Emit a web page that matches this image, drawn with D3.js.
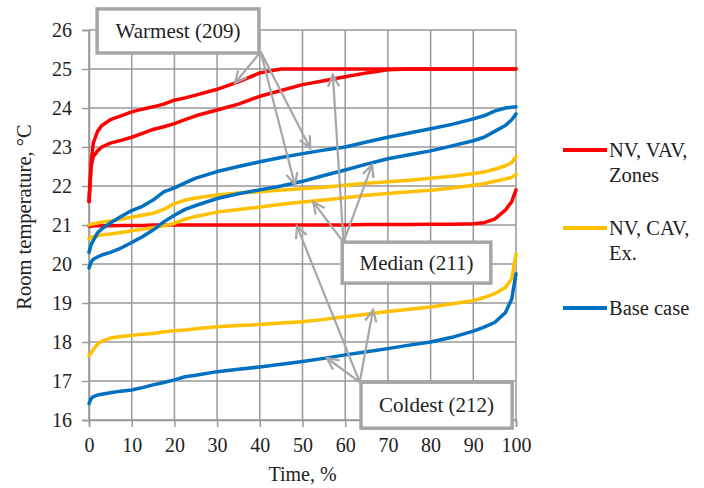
<!DOCTYPE html>
<html>
<head>
<meta charset="utf-8">
<script src="https://cdn.jsdelivr.net/npm/d3@7"></script>
<style>
  html, body { margin: 0; padding: 0; background: #fff; }
  svg text { font-family: "Liberation Serif", "Times New Roman", serif; fill: #222; }
</style>
</head>
<body>
<svg id="chart" width="704" height="488"></svg>
<script>
// Time axis (% of time) shared by every duration curve
const timePct = [0, 0.5, 1, 2, 3, 5, 7.5, 10, 12.5, 15, 17.5, 20, 22.5, 25, 30, 35, 40, 45, 50,
  55, 60, 65, 70, 75, 80, 85, 90, 92.5, 95, 97.5, 99, 100];

// NV, VAV, Zones (red)
const vavWarmest = [21.6, 22.6, 23.1, 23.4, 23.55, 23.7, 23.8, 23.9, 23.97, 24.03, 24.1, 24.2, 24.26, 24.33, 24.48, 24.67, 24.9, 25.0, 25.0,
  25.0, 25.0, 25.0, 25.0, 25.0, 25.0, 25.0, 25.0, 25.0, 25.0, 25.0, 25.0, 25.0];
const vavMedian = [21.6, 22.5, 22.75, 22.9, 23.0, 23.1, 23.17, 23.25, 23.35, 23.45, 23.52, 23.6, 23.7, 23.8, 23.95, 24.1, 24.3, 24.45, 24.6,
  24.7, 24.8, 24.9, 24.98, 25.0, 25.0, 25.0, 25.0, 25.0, 25.0, 25.0, 25.0, 25.0];
const vavColdest = [20.97, 20.97, 20.98, 20.98, 20.98, 20.98, 20.99, 20.99, 20.99, 21.0, 21.0, 21.0, 21.0, 21.0, 21.0, 21.0, 21.0, 21.0, 21.0,
  21.0, 21.0, 21.01, 21.01, 21.01, 21.02, 21.02, 21.03, 21.06, 21.15, 21.38, 21.6, 21.9];

// NV, CAV, Ex. (yellow)
const cavWarmest = [21.0, 21.02, 21.03, 21.05, 21.07, 21.1, 21.15, 21.2, 21.25, 21.3, 21.4, 21.55, 21.64, 21.69, 21.77, 21.82, 21.85, 21.9, 21.93,
  21.97, 22.02, 22.07, 22.11, 22.15, 22.2, 22.25, 22.32, 22.36, 22.43, 22.52, 22.6, 22.75];
const cavMedian = [20.65, 20.68, 20.7, 20.72, 20.75, 20.77, 20.81, 20.85, 20.89, 20.93, 20.98, 21.04, 21.15, 21.22, 21.33, 21.4, 21.46, 21.53, 21.59,
  21.64, 21.7, 21.76, 21.81, 21.85, 21.89, 21.95, 22.02, 22.06, 22.12, 22.18, 22.22, 22.3];
const cavColdest = [17.65, 17.72, 17.8, 17.95, 18.02, 18.1, 18.14, 18.17, 18.2, 18.22, 18.26, 18.29, 18.31, 18.34, 18.39, 18.42, 18.45, 18.49, 18.52,
  18.58, 18.65, 18.71, 18.78, 18.84, 18.9, 18.98, 19.06, 19.14, 19.24, 19.4, 19.62, 20.25];

// Base case (blue)
const baseWarmest = [20.3, 20.5, 20.6, 20.8, 20.9, 21.05, 21.22, 21.37, 21.48, 21.64, 21.85, 21.95, 22.08, 22.2, 22.37, 22.5, 22.62, 22.73, 22.83,
  22.92, 23.0, 23.13, 23.25, 23.36, 23.47, 23.58, 23.72, 23.8, 23.92, 24.0, 24.02, 24.03];
const baseMedian = [19.9, 20.05, 20.12, 20.18, 20.23, 20.3, 20.41, 20.55, 20.7, 20.87, 21.08, 21.25, 21.4, 21.5, 21.68, 21.8, 21.9, 22.0, 22.12,
  22.27, 22.41, 22.56, 22.7, 22.8, 22.9, 23.03, 23.16, 23.25, 23.4, 23.55, 23.7, 23.85];
const baseColdest = [16.42, 16.55, 16.6, 16.64, 16.66, 16.7, 16.74, 16.77, 16.83, 16.9, 16.96, 17.03, 17.11, 17.15, 17.24, 17.3, 17.36, 17.43, 17.5,
  17.58, 17.67, 17.75, 17.83, 17.92, 18.0, 18.12, 18.28, 18.38, 18.5, 18.75, 19.1, 19.75];

const xTicks = [0, 10, 20, 30, 40, 50, 60, 70, 80, 90, 100];
const yTicks = [16, 17, 18, 19, 20, 21, 22, 23, 24, 25, 26];

const seriesNames = ["NV, VAV, Zones", "NV, CAV, Ex.", "Base case"];
const seriesColors = ["#ff0000", "#ffc000", "#0070c0"];
const seriesCurves = [
  [vavWarmest, vavMedian, vavColdest],
  [cavWarmest, cavMedian, cavColdest],
  [baseWarmest, baseMedian, baseColdest]
];

// Callouts: label, box corners [time, temp], arrow origin and arrow tips in data units
const calloutLabels = ["Warmest (209)", "Median (211)", "Coldest (212)"];
const calloutBoxes = [[[1.9, 26.54], [39.8, 25.41]], [[59.3, 20.56], [94.1, 19.51]], [[63.7, 16.97], [99.1, 15.79]]];
const calloutOrigins = [[40.2, 25.44], [59.6, 20.56], [63.4, 16.97]];
const calloutTips = [
  [[34.2, 24.64], [51.8, 22.97], [48.2, 22.03]],
  [[57.1, 24.85], [66.3, 22.54], [52.5, 21.59]],
  [[48.7, 20.97], [66.5, 18.82], [55.7, 17.59]]
];

const svg = d3.select("#chart");
const margin = { left: 89, right: 188, top: 30, bottom: 68 };
const W = 704, H = 488;

const x = d3.scaleLinear().domain([0, 100]).range([margin.left, W - margin.right]);
const y = d3.scaleLinear().domain([16, 26]).range([H - margin.bottom, margin.top]);

const gridColor = "#999999";

// Gridlines
const grid = svg.append("g");
grid.selectAll("line.v").data(xTicks).join("line")
  .attr("x1", d => x(d)).attr("x2", d => x(d))
  .attr("y1", y(26)).attr("y2", y(16))
  .attr("stroke", gridColor).attr("stroke-width", 1.5);
grid.selectAll("line.h").data(yTicks).join("line")
  .attr("x1", x(0)).attr("x2", x(100))
  .attr("y1", d => y(d)).attr("y2", d => y(d))
  .attr("stroke", gridColor).attr("stroke-width", 1.5);

// Axes
const xAxis = svg.append("g")
  .attr("transform", `translate(0,${y(16)})`)
  .call(d3.axisBottom(x).tickValues(xTicks).tickSize(7).tickPadding(11));
const yAxis = svg.append("g")
  .attr("transform", `translate(${x(0)},0)`)
  .call(d3.axisLeft(y).tickValues(yTicks).tickSize(7).tickPadding(10));
[xAxis, yAxis].forEach(a => {
  a.select(".domain").attr("stroke", gridColor).attr("stroke-width", 1.5);
  a.selectAll(".tick line").attr("stroke", gridColor).attr("stroke-width", 1.5);
  a.selectAll(".tick text").attr("font-size", 20).attr("fill", "#222")
    .attr("font-family", "Liberation Serif, Times New Roman, serif");
});

// Axis titles
svg.append("text").attr("x", x(50)).attr("y", 481).attr("text-anchor", "middle")
  .attr("font-size", 20).text("Time, %");
svg.append("text").attr("transform", "translate(31,217) rotate(-90)")
  .attr("text-anchor", "middle").attr("font-size", 20.5).text("Room temperature, °C");

// Duration curves
const line = d3.line().x((d, i) => x(timePct[i])).y(d => y(d));
const curvesG = svg.append("g");
seriesCurves.forEach((curves, s) => {
  curves.forEach(vals => {
    curvesG.append("path").datum(vals)
      .attr("d", line)
      .attr("fill", "none")
      .attr("stroke", seriesColors[s])
      .attr("stroke-width", 3.5)
      .attr("stroke-linejoin", "round")
      .attr("stroke-linecap", "round");
  });
});

// Callout arrows
const arrowColor = "#a6a6a6";
const ann = svg.append("g");
function arrow(o, t) {
  const x0 = x(o[0]), y0 = y(o[1]), x1 = x(t[0]), y1 = y(t[1]);
  const ang = Math.atan2(y1 - y0, x1 - x0);
  const len = 13, spread = 0.45;
  ann.append("line").attr("x1", x0).attr("y1", y0).attr("x2", x1).attr("y2", y1)
    .attr("stroke", arrowColor).attr("stroke-width", 2.2);
  const p1 = [x1 - len * Math.cos(ang - spread), y1 - len * Math.sin(ang - spread)];
  const p2 = [x1 - len * Math.cos(ang + spread), y1 - len * Math.sin(ang + spread)];
  ann.append("path").attr("d", `M${p1[0]},${p1[1]}L${x1},${y1}L${p2[0]},${p2[1]}`)
    .attr("fill", "none").attr("stroke", arrowColor).attr("stroke-width", 2.2)
    .attr("stroke-linejoin", "miter");
}
calloutTips.forEach((tips, i) => tips.forEach(t => arrow(calloutOrigins[i], t)));

// Callout boxes
calloutLabels.forEach((label, i) => {
  const [a, b] = calloutBoxes[i];
  const bx = x(a[0]), by = y(a[1]), bw = x(b[0]) - x(a[0]), bh = y(b[1]) - y(a[1]);
  ann.append("rect").attr("x", bx).attr("y", by).attr("width", bw).attr("height", bh)
    .attr("fill", "#fff").attr("stroke", arrowColor).attr("stroke-width", 3.5);
  ann.append("text").attr("x", bx + bw / 2).attr("y", by + bh / 2 + 7)
    .attr("text-anchor", "middle").attr("font-size", 21).text(label);
});

// Legend
const legendLines = [["NV, VAV,", "Zones"], ["NV, CAV,", "Ex."], ["Base case"]];
const legendY = [150, 228, 308];
const legend = svg.append("g");
seriesNames.forEach((name, i) => {
  legend.append("line").attr("x1", 563).attr("x2", 607)
    .attr("y1", legendY[i]).attr("y2", legendY[i])
    .attr("stroke", seriesColors[i]).attr("stroke-width", 4);
  const t = legend.append("text").attr("x", 609).attr("y", legendY[i] + 7).attr("font-size", 20.5);
  legendLines[i].forEach((ln, k) => {
    t.append("tspan").attr("x", 609).attr("dy", k === 0 ? 0 : 25).text(ln);
  });
});
</script>
</body>
</html>
